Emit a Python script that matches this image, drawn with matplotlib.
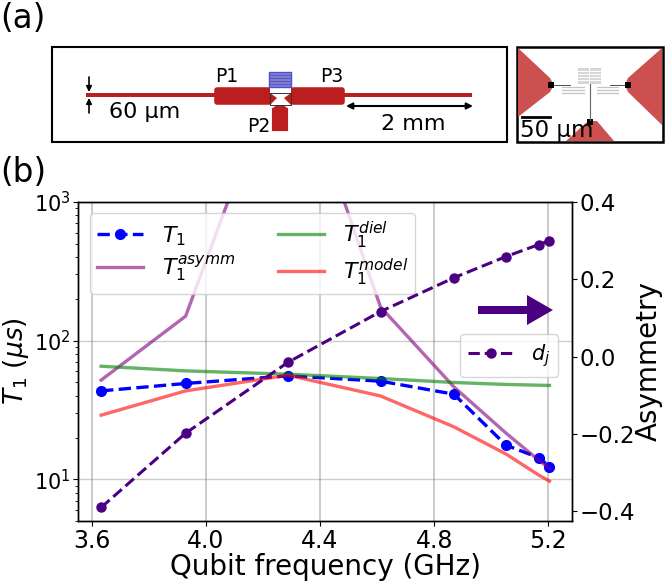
import matplotlib
matplotlib.use('Agg')
import matplotlib.pyplot as plt
from matplotlib.patches import FancyBboxPatch, Polygon, Rectangle

W, H = 666, 582

# values
freq = [3.633, 3.929, 4.288, 4.612, 4.869, 5.052, 5.167, 5.204]
t1 = [43.4, 49.1, 55.7, 51.0, 41.1, 17.6, 14.3, 12.35]
t1_asymm = [51.9, 150, 15000, 175, 46.4, 21.5, 13.7, 11.95]
t1_diel = [65.4, 60.5, 57.3, 53.3, 49.9, 48.3, 47.7, 47.5]
t1_model = [29, 43.4, 56.3, 39.9, 23.9, 15.2, 10.7, 9.7]
asymmetry = [-0.39, -0.198, -0.0145, 0.1166, 0.204, 0.259, 0.29, 0.30]
x_ticks = [3.6, 4.0, 4.4, 4.8, 5.2]
right_ticks = [-0.4, -0.2, 0.0, 0.2, 0.4]

RED = '#bb1e1e'
SOFT_RED = '#cd5050'
PURPLE = '#4b0082'

plt.rcParams['axes.linewidth'] = 1.0
fig = plt.figure(figsize=(W / 100, H / 100), dpi=100)

# main plot
ax = fig.add_axes([78 / W, 1 - 521 / H, 494 / W, 319 / H])
ax.set_yscale('log')
ax.plot(freq, t1, '--o', color='blue', lw=2.4, ms=7, label=r'$T_1$')
ax.plot(freq, t1_asymm, '-', color='purple', alpha=0.6, lw=2.4, label=r'$T_1^{asymm}$')
ax.plot(freq, t1_diel, '-', color='green', alpha=0.6, lw=2.4, label=r'$T_1^{diel}$')
ax.plot(freq, t1_model, '-', color='red', alpha=0.6, lw=2.4, label=r'$T_1^{model}$')
ax.set_xlim(3.552, 5.283)
ax.set_ylim(5, 1000)
ax.set_xticks(x_ticks)
ax.set_xticklabels(['%.1f' % v for v in x_ticks])
ax.grid(True, axis='x', which='major', color='gray', alpha=0.4, lw=1.5)
ax.grid(True, axis='y', which='major', color='gray', alpha=0.4, lw=1.0)
ax.tick_params(axis='x', labelsize=17, pad=2)
ax.tick_params(axis='y', labelsize=15, pad=2)
ax.set_xlabel('Qubit frequency (GHz)', fontsize=20, labelpad=0)
ax.set_ylabel(r'$T_1$ $(\mu s)$', fontsize=19)
ax.yaxis.set_label_coords(-0.095, 0.5)
ax.legend(loc='upper left', bbox_to_anchor=(0.0243, 0.9655), ncol=2, fontsize=16,
          borderaxespad=0, columnspacing=1.9, handlelength=2.1, handletextpad=0.85,
          labelspacing=0.25, borderpad=0.3)

ax2 = ax.twinx()
ax2.plot(freq, asymmetry, '--o', color=PURPLE, lw=2.2, ms=6.5, label=r'$d_j$')
ax2.set_ylim(-0.425, 0.4)
ax2.set_yticks(right_ticks)
ax2.set_yticklabels(['%.1f' % v if v >= 0 else '\u2212%.1f' % -v for v in right_ticks])
ax2.tick_params(labelsize=16.5, pad=2)
ax2.set_ylabel('Asymmetry', fontsize=20, labelpad=0)
ax2.legend(loc='lower right', bbox_to_anchor=(0.972, 0.45), fontsize=15,
           borderaxespad=0, handlelength=2.2)

# overlay in pixel units for the schematic and the annotations
ov = fig.add_axes([0, 0, 1, 1], facecolor='none')
ov.set_xlim(0, W)
ov.set_ylim(H, 0)
ov.axis('off')

ov.text(0, 18, '(a)', fontsize=23.5, va='center')
ov.text(0, 173, '(b)', fontsize=23.5, va='center')

# panel a, left box
ov.add_patch(Rectangle((52, 47), 455, 95, fc='white', ec='black', lw=1.5))
ov.add_patch(Rectangle((86, 93), 386, 4, fc=RED, ec='none'))
for x0, w in [(214, 58), (290, 55)]:
    ov.add_patch(FancyBboxPatch((x0 + 3, 90), w - 6, 12, boxstyle='round,pad=0,rounding_size=0',
                                fc=RED, ec=RED, lw=4, joinstyle='round'))
ov.add_patch(FancyBboxPatch((274, 110), 12, 19, boxstyle='round,pad=0,rounding_size=0',
                            fc=RED, ec=RED, lw=3))
ov.add_patch(Polygon([(273, 122), (273, 108), (280, 102), (287, 108), (287, 122)], fc=RED, ec='none'))
# junction region
ov.add_patch(Rectangle((270, 87), 21, 18, fc='white', ec='none'))
ov.add_patch(Polygon([(270, 93), (277, 98), (270, 105)], fc=RED, ec='none'))
ov.add_patch(Polygon([(291, 93), (284, 98), (291, 105)], fc=RED, ec='none'))
ov.add_patch(Rectangle((270, 93), 21, 12, fc='none', ec='#333333', lw=0.7))
ov.add_patch(Rectangle((269, 72), 22, 15, fc='#8080d8', ec='#5050d0', lw=1))
for yy in (75, 78, 81, 84):
    ov.plot([269, 291], [yy, yy], color='#5858c0', lw=0.8)
ov.text(215, 77, 'P1', fontsize=13.5, va='center')
ov.text(320, 77, 'P3', fontsize=13.5, va='center')
ov.text(247, 127, 'P2', fontsize=13.5, va='center')
ov.text(109, 112, '60 \u00b5m', fontsize=16, va='center')
ov.text(381, 124, '2 mm', fontsize=16, va='center')
ov.annotate('', xy=(473, 106), xytext=(346, 106),
            arrowprops=dict(arrowstyle='<|-|>', color='black', lw=1.5, mutation_scale=9, shrinkA=0, shrinkB=0))
ov.annotate('', xy=(89, 92), xytext=(89, 77),
            arrowprops=dict(arrowstyle='-|>', color='black', lw=1.2, mutation_scale=8, shrinkA=0, shrinkB=0))
ov.annotate('', xy=(89, 98), xytext=(89, 113),
            arrowprops=dict(arrowstyle='-|>', color='black', lw=1.2, mutation_scale=8, shrinkA=0, shrinkB=0))

# panel a, right box
ov.add_patch(Rectangle((517, 47), 146, 95, fc='white', ec='black', lw=1.8))
ov.add_patch(Polygon([(518, 48), (550, 78), (554, 85), (550, 92), (518, 117)], fc=SOFT_RED, ec='none'))
ov.add_patch(Polygon([(662, 48), (628, 78), (625, 85), (628, 92), (662, 125)], fc=SOFT_RED, ec='none'))
ov.add_patch(Polygon([(566, 141), (588, 121), (597, 121), (614, 141)], fc=SOFT_RED, ec='none'))
for cx, cy in [(551, 85), (628, 85), (590, 122)]:
    ov.add_patch(Rectangle((cx - 3, cy - 3), 6, 6, fc='black', ec='none'))
ov.plot([554, 570], [85, 85], color='#333333', lw=0.6)
ov.plot([610, 625], [85, 85], color='#333333', lw=0.6)
ov.plot([590, 590], [84, 120], color='#666666', lw=0.8)
# meanders and capacitor
for x0, x1 in [(562, 584), (597, 618)]:
    for yy in (87, 90, 93):
        ov.plot([x0, x1], [yy, yy], color='#c4c4c4', lw=0.9)
for x0 in (578, 590):
    ov.add_patch(Rectangle((x0, 68), 10, 15, fc='#d8d8d8', ec='#c8c8c8', lw=0.5))
    for yy in (71, 74, 77, 80):
        ov.plot([x0, x0 + 10], [yy, yy], color='white', lw=0.7)
ov.plot([522, 550], [117, 117], color='black', lw=2)
ov.text(520, 131, '50 \u00b5m', fontsize=16.5, va='center')

# purple arrow in panel b
ov.add_patch(Polygon([(478, 306), (527, 306), (527, 295), (553, 310), (527, 325), (527, 314), (478, 314)],
                     fc=PURPLE, ec='none'))

fig.savefig('out.png', dpi=100)
